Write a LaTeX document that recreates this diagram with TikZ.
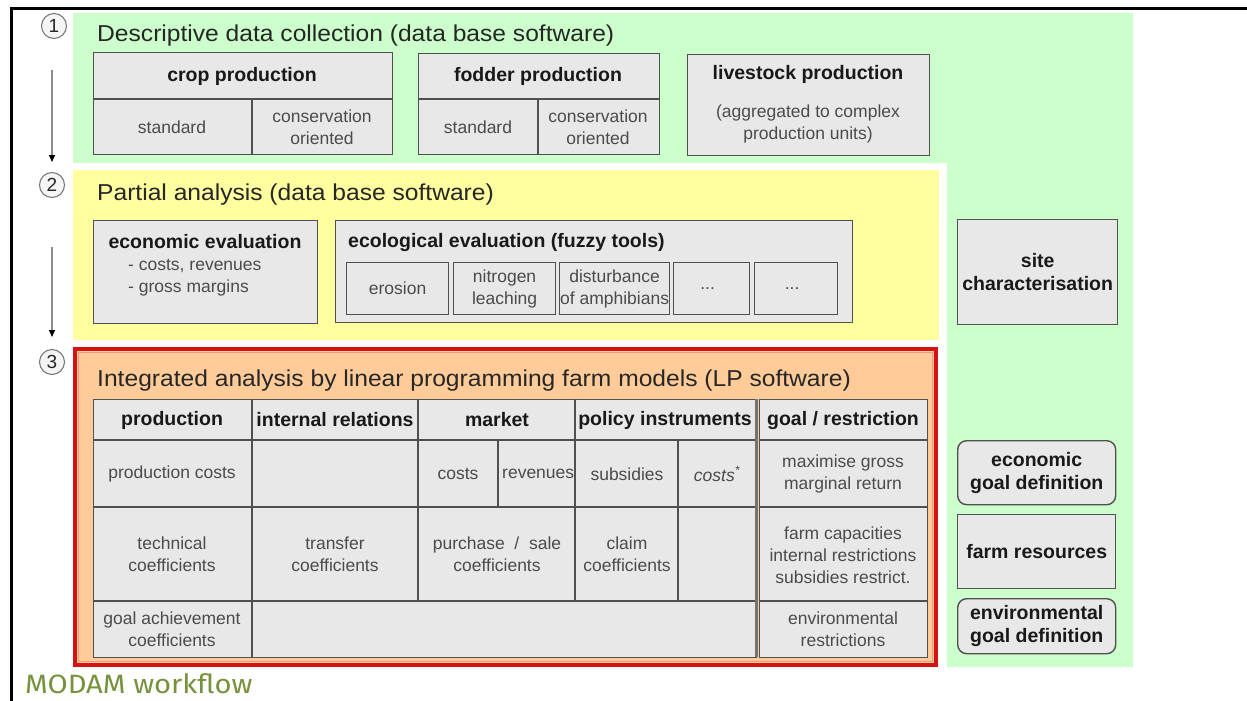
\documentclass[tikz,border=0pt]{standalone}
\usepackage{fontspec}
\setmainfont{Liberation Sans}
\newfontfamily\titlefont[FakeStretch=1.07]{Liberation Sans}
\newfontfamily\capfont[FakeStretch=1.1]{Fira Sans}
\usetikzlibrary{arrows.meta}
\definecolor{bgreen}{RGB}{204,255,204}
\definecolor{byellow}{RGB}{255,255,160}
\definecolor{bpeach}{RGB}{255,204,153}
\definecolor{bred}{RGB}{212,20,20}
\definecolor{bsalmon}{RGB}{245,150,130}
\definecolor{cellfill}{RGB}{232,232,232}
\definecolor{cellline}{RGB}{80,80,80}
\definecolor{smalltxt}{RGB}{75,75,75}
\definecolor{capgreen}{RGB}{118,146,60}
\tikzset{
  box/.style={draw=cellline, fill=cellfill, line width=1.4pt, inner sep=0pt, anchor=north west},
  rbox/.style={box, rounded corners=9pt},
  ibox/.style={box, line width=1.2pt},
  gline/.style={draw=cellline, line width=1.4pt},
  hd/.style={font=\fontsize{19.5}{23}\selectfont\bfseries, text=black!90, inner sep=0pt, align=center},
  sm/.style={font=\fontsize{17.5}{22}\selectfont, text=smalltxt, align=center, inner sep=0pt},
  ttl/.style={font={\titlefont\fontsize{23}{27}\selectfont}, text=black!85, anchor=base west, inner sep=0pt},
  num/.style={circle, draw=black!55, fill=black!4, line width=1pt, minimum size=25pt, inner sep=0pt, font=\fontsize{19}{22}\selectfont, text=black!85},
  arr/.style={draw=black!45, line width=1.3pt, -{Triangle[length=7pt,width=6pt,color=black]}},
}
\begin{document}
\begin{tikzpicture}[x=1pt,y=-1pt]
\useasboundingbox (0,0) rectangle (1247,701);
\fill[white] (0,0) rectangle (1247,701);
% background panels
\fill[bgreen] (73,13) rectangle (1133,667);
\fill[white] (73,163) rectangle (947,667);
\fill[byellow] (73,170) rectangle (939,340);
\draw[bred, line width=4.5pt, fill=bpeach] (75,349) rectangle (936,665);
\draw[bsalmon, line width=1.5pt] (78.5,352.5) rectangle (932.5,661.5);
% frame
\draw[black, line width=3pt] (11,701) -- (11,8.5) -- (1247,8.5);

% step markers
\node[num] (n1) at (54,26) {1};
\node[num] (n2) at (52,185) {2};
\node[num] (n3) at (52,362) {3};
\coordinate (a1s) at (52,70);
\coordinate (a1e) at (52,162);
\coordinate (a2s) at (52,247);
\coordinate (a2e) at (52,337);
\draw[arr] (a1s) -- (a1e);
\draw[arr] (a2s) -- (a2e);

% ---- step 1
\node[ttl] (t1) at (97,42) {Descriptive data collection (data base software)};
\node[box, minimum width=299pt, minimum height=102pt] (crop) at (93,52) {};
\draw[gline] (93,99) -- (392,99) (252,99) -- (252,154);
\node[hd] (cropT) at (242,76) {crop production};
\node[sm] (cropS) at (172,127) {standard};
\node[sm] (cropC) at (322,127) {conservation\\oriented};

\node[box, minimum width=241pt, minimum height=101pt] (fod) at (418,53) {};
\draw[gline] (418,99) -- (659,99) (538,99) -- (538,154);
\node[hd] (fodT) at (538,76) {fodder production};
\node[sm] (fodS) at (478,127) {standard};
\node[sm] (fodC) at (598,127) {conservation\\oriented};

\node[box, minimum width=242pt, minimum height=101pt] (live) at (687,54) {};
\node[hd] (liveT) at (808,74) {livestock production};
\node[sm] (liveS) at (808,124) {(aggregated to complex\\production units)};

% ---- step 2
\node[ttl] (t2) at (97,200) {Partial analysis (data base software)};
\node[box, minimum width=224pt, minimum height=103pt] (econ) at (93,220) {};
\node[hd] (econT) at (205,242) {economic evaluation};
\node[sm, align=left, anchor=west] (econS) at (128,278) {- costs, revenues\\- gross margins};

\node[box, minimum width=517pt, minimum height=102pt] (eco) at (335,220) {};
\node[hd, anchor=west] (ecoT) at (348,242) {ecological evaluation (fuzzy tools)};
\node[ibox, minimum width=102pt, minimum height=52pt] (ero) at (346,262) {};
\node[ibox, minimum width=102pt, minimum height=52pt] (nit) at (453,262) {};
\node[ibox, minimum width=110pt, minimum height=52pt] (amph) at (559,262) {};
\node[ibox, minimum width=76pt, minimum height=52pt] (dA) at (673,262) {};
\node[ibox, minimum width=83pt, minimum height=52pt] (dB) at (754,262) {};
\node[sm] at (ero.center) {erosion};
\node[sm] at (nit.center) {nitrogen\\leaching};
\node[sm] at (amph.center) {disturbance\\of amphibians};
\node[sm] at ([xshift=-4pt]dA.center) {...};
\node[sm] at ([xshift=-4pt]dB.center) {...};

\node[box, minimum width=160pt, minimum height=105pt] (site) at (957,219) {};
\node[hd] at (site.center) {site\\characterisation};

% ---- step 3
\node[ttl] (t3) at (97,386) {Integrated analysis by linear programming farm models (LP software)};
\node[box, minimum width=663pt, minimum height=258pt] (tab) at (93,399) {};
\draw[gline] (93,440) -- (756,440) (93,507) -- (756,507) (93,601) -- (756,601);
\draw[gline] (252,399) -- (252,657) (418,399) -- (418,601) (575,399) -- (575,601)
  (498,440) -- (498,507) (678,440) -- (678,601);
\draw[draw=black!55, line width=3pt] (756.5,399) -- (756.5,657);
\node[box, minimum width=168pt, minimum height=258pt] (goal) at (759,399) {};
\draw[gline] (759,440) -- (927,440) (759,507) -- (927,507) (759,601) -- (927,601);

\node[hd] at (172,420) {production};
\node[hd] at (335,420) {internal relations};
\node[hd] at (497,420) {market};
\node[hd] at (665,420) {policy instruments};
\node[hd] at (843,420) {goal / restriction};

\node[sm] at (172,474) {production costs};
\node[sm] at (458,474) {costs};
\begin{scope}
\clip (499,441) rectangle (574,506);
\node[sm, anchor=west] at (502,474) {revenues};
\end{scope}
\node[sm] at (627,474) {subsidies};
\node[sm] at (717,474) {\itshape costs\textsuperscript{*}};
\node[sm] at (843,474) {maximise gross\\marginal return};

\node[sm] at (172,554) {technical\\coefficients};
\node[sm] at (335,554) {transfer\\coefficients};
\node[sm] at (497,554) {purchase\ \ /\ \ sale\\coefficients};
\node[sm] at (627,554) {claim\\coefficients};
\node[sm] at (843,555) {farm capacities\\internal restrictions\\subsidies restrict.};

\node[sm] at (172,629) {goal achievement\\coefficients};
\node[sm] at (843,629) {environmental\\restrictions};

% right column
\node[rbox, minimum width=158pt, minimum height=64pt] (egoal) at (957,440) {};
\node[hd] at (egoal.center) {economic\\goal definition};
\node[box, minimum width=158pt, minimum height=74pt] (fres) at (957,514) {};
\node[hd] at (fres.center) {farm resources};
\node[rbox, minimum width=158pt, minimum height=55pt] (envg) at (957,598) {};
\node[hd] at (envg.center) {environmental\\goal definition};

% caption
\node[font={\capfont\fontsize{26.5}{30}\selectfont}, text=capgreen, anchor=base west, inner sep=0pt] (cap) at (25,693) {MODAM workflow};
\end{tikzpicture}
\end{document}
